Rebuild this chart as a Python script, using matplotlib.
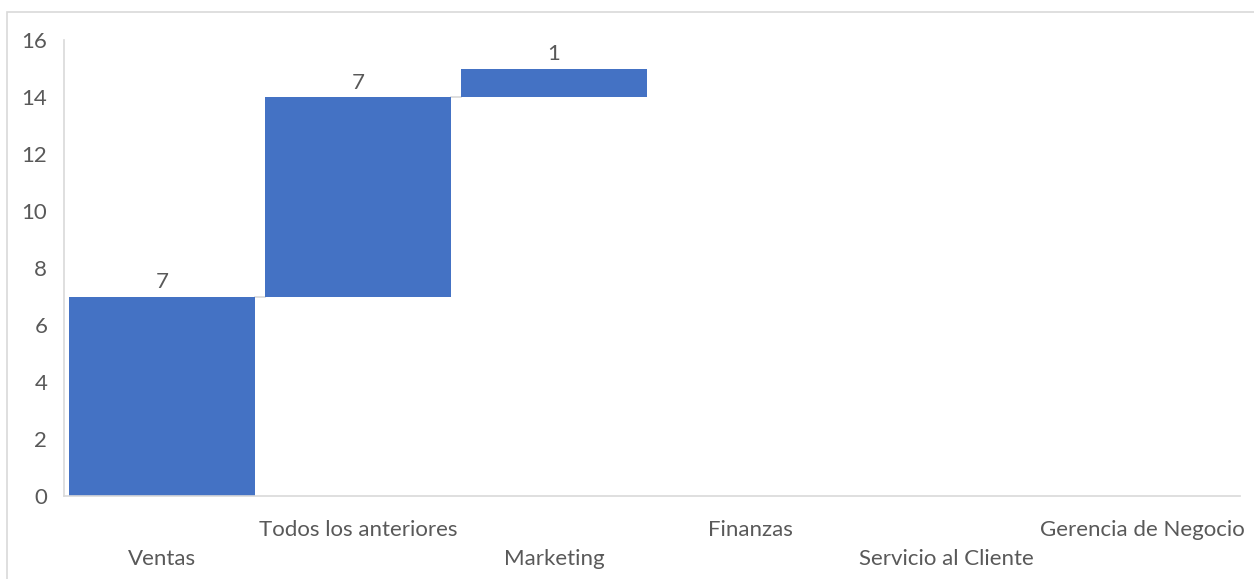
import matplotlib
matplotlib.use("Agg")
import matplotlib.pyplot as plt
from matplotlib.patches import Rectangle

categories = ["Ventas", "Todos los anteriores", "Marketing", "Finanzas",
              "Servicio al Cliente", "Gerencia de Negocio"]
values = [7, 7, 1, 0, 0, 0]
y_ticks = [0, 2, 4, 6, 8, 10, 12, 14, 16]

BAR = "#4472C4"
TEXT = "#595959"
GRID = "#D9D9D9"
FS = 16

plt.rcParams["font.family"] = ["Lato", "DejaVu Sans"]

fig = plt.figure(figsize=(12.54, 5.79), dpi=100)
# chart area frame
fig.patches.append(Rectangle((7 / 1254, -0.05), 1.1, 1 - 11.5 / 579 + 0.05,
                             transform=fig.transFigure, fill=False,
                             edgecolor=GRID, linewidth=1.2))

ax = fig.add_axes([64 / 1254, 1 - 496 / 579, (1240 - 64) / 1254, (496 - 40) / 579])

# running totals for the waterfall
bottoms = []
total = 0
for v in values:
    bottoms.append(total)
    total += v

x = list(range(len(categories)))
width = 0.95
for i, (b, v) in enumerate(zip(bottoms, values)):
    if v == 0:
        continue
    ax.bar(i, v, bottom=b, width=width, color=BAR, zorder=2)
    ax.text(i, b + v + 0.15, f"{v}", ha="center", va="bottom",
            fontsize=FS, color=TEXT)

# connectors between consecutive non-zero steps
for i in range(len(values) - 1):
    if values[i] == 0 or values[i + 1] == 0:
        continue
    level = bottoms[i] + values[i]
    ax.plot([i + width / 2, i + 1 - width / 2], [level, level],
            color=GRID, linewidth=1.2, zorder=1)

ax.set_xlim(-0.5, len(categories) - 0.5)
ax.set_ylim(0, 16)
ax.set_yticks(y_ticks)
ax.set_yticklabels([str(t) for t in y_ticks], fontsize=FS, color=TEXT)
ax.tick_params(axis="y", length=0, pad=12)
ax.tick_params(axis="x", length=0)
ax.set_xticks(x)
ax.set_xticklabels([])

# staggered category labels
for i, name in enumerate(categories):
    offset = 63 if i % 2 == 0 else 34
    ax.annotate(name, xy=(i, 0), xycoords=("data", "axes fraction"),
                xytext=(0, -offset), textcoords="offset pixels",
                ha="center", va="center", fontsize=FS, color=TEXT)

for side in ("top", "right"):
    ax.spines[side].set_visible(False)
ax.spines["left"].set_color(GRID)
ax.spines["bottom"].set_color(GRID)
ax.spines["left"].set_linewidth(1.2)
ax.spines["bottom"].set_linewidth(1.2)

fig.savefig("out.png", dpi=100)
